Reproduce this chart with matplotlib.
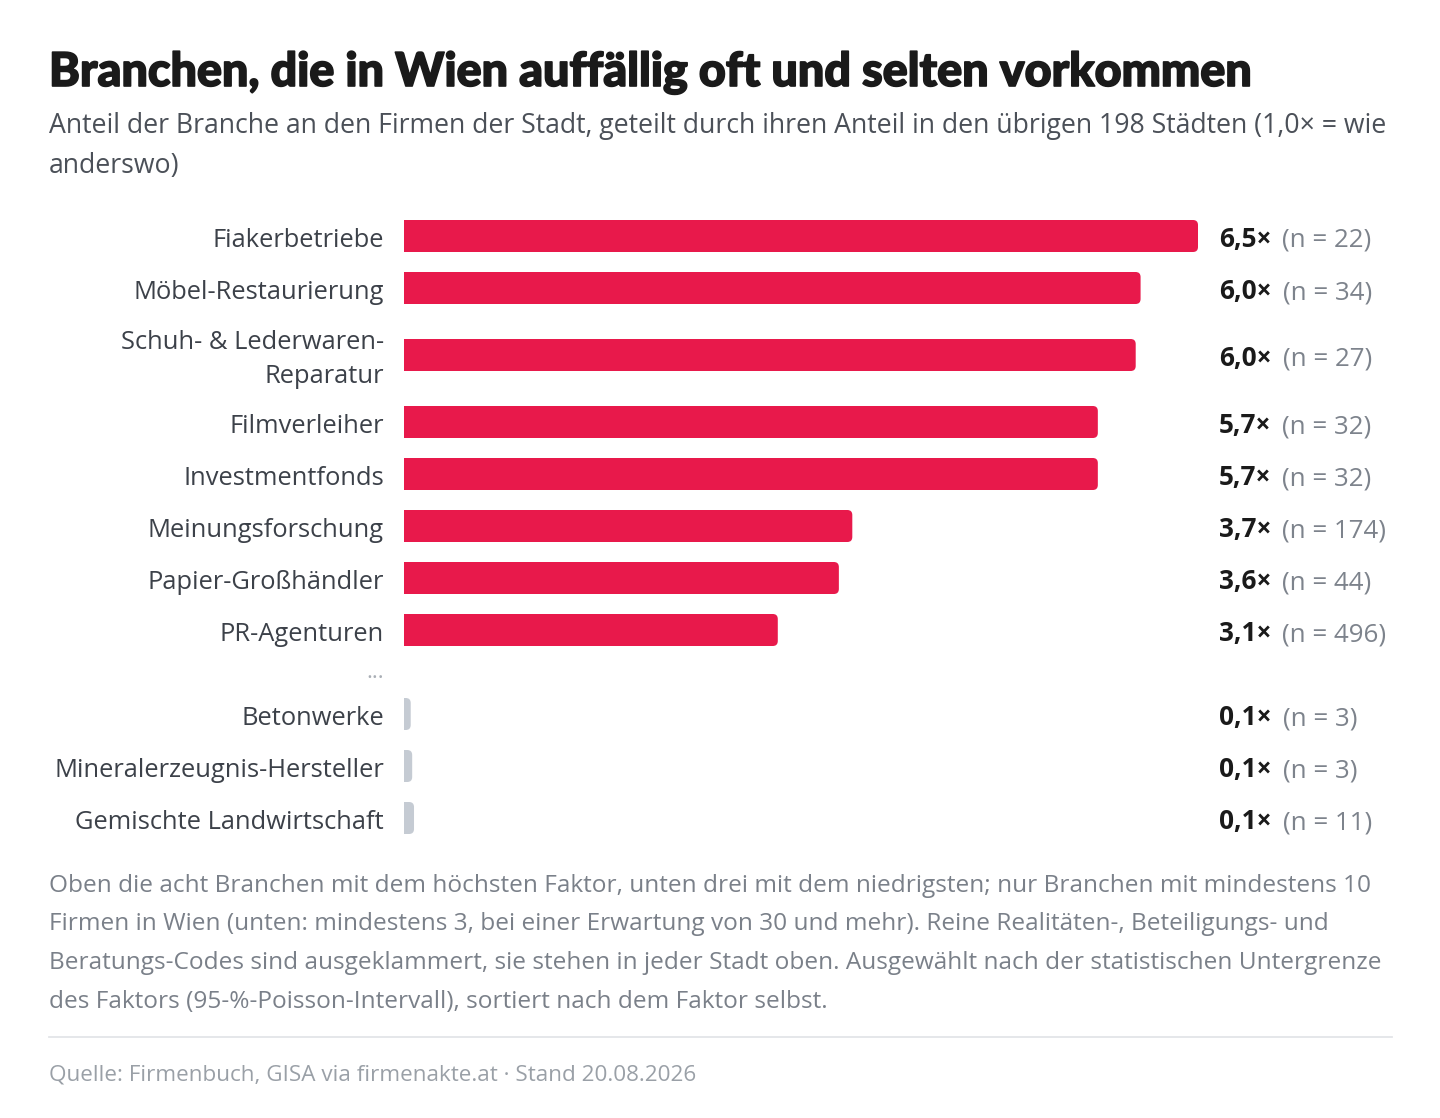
import matplotlib
matplotlib.use('Agg')
import matplotlib.pyplot as plt
from matplotlib.patches import FancyBboxPatch
import matplotlib.patheffects as pe

# ---------------- data ----------------
categories_top = ["Fiakerbetriebe", "Möbel-Restaurierung", "Schuh- & Lederwaren-\nReparatur",
                  "Filmverleiher", "Investmentfonds", "Meinungsforschung",
                  "Papier-Großhändler", "PR-Agenturen"]
factor_top = [6.50, 6.03, 5.99, 5.68, 5.68, 3.67, 3.56, 3.06]
n_top = [22, 34, 27, 32, 32, 174, 44, 496]

categories_bottom = ["Betonwerke", "Mineralerzeugnis-Hersteller", "Gemischte Landwirtschaft"]
factor_bottom = [0.055, 0.067, 0.082]
n_bottom = [3, 3, 11]

title = "Branchen, die in Wien auffällig oft und selten vorkommen"
subtitle_lines = ["Anteil der Branche an den Firmen der Stadt, geteilt durch ihren Anteil in den übrigen 198 Städten (1,0× = wie",
                  "anderswo)"]
note_lines = ["Oben die acht Branchen mit dem höchsten Faktor, unten drei mit dem niedrigsten; nur Branchen mit mindestens 10",
              "Firmen in Wien (unten: mindestens 3, bei einer Erwartung von 30 und mehr). Reine Realitäten-, Beteiligungs- und",
              "Beratungs-Codes sind ausgeklammert, sie stehen in jeder Stadt oben. Ausgewählt nach der statistischen Untergrenze",
              "des Faktors (95-%-Poisson-Intervall), sortiert nach dem Faktor selbst."]
source = "Quelle: Firmenbuch, GISA via firmenakte.at · Stand 20.08.2026"

# ---------------- style ----------------
W, H, DPI = 1440, 1118, 100
RED = "#E8194B"
GREY_BAR = "#C5CBD3"
BODY = "Open Sans"
TITLE_FONT = "Lato"

fig = plt.figure(figsize=(W / DPI, H / DPI), dpi=DPI)
fig.patch.set_facecolor("white")

def fx(x):
    return x / W

def fy(y):
    return 1 - y / H

# title / subtitle
fig.text(fx(49), fy(86), title, fontsize=33.6, fontweight="black", family=TITLE_FONT,
         color="#1a1a1a", va="baseline", ha="left",
         path_effects=[pe.withStroke(linewidth=1.2, foreground="#1a1a1a")])
for i, line in enumerate(subtitle_lines):
    fig.text(fx(49), fy(133 + 40 * i), line, fontsize=19.2, family=BODY,
             color="#4b5058", va="baseline", ha="left")

# ---------------- bars ----------------
X0, X1 = 404, 1198
ax = fig.add_axes([fx(X0), 0, (X1 - X0) / W, 1])
ax.set_xlim(0, max(factor_top))
ax.set_ylim(H, 0)
ax.axis("off")
ppu = (X1 - X0) / max(factor_top)   # pixels per unit of factor

BAR_H = 32
RADIUS = 5
ROW = 52
ROW2 = 82
GAP = 32
LINE = 34

rows = []  # (label, value, n, colour, y_center)
y = 210
for lab, v, n in zip(categories_top, factor_top, n_top):
    h = ROW2 if "\n" in lab else ROW
    rows.append((lab, v, n, RED, y + h / 2))
    y += h
ell_y = y + GAP / 2
y += GAP
for lab, v, n in zip(categories_bottom, factor_bottom, n_bottom):
    rows.append((lab, v, n, GREY_BAR, y + ROW / 2))
    y += ROW

rx = RADIUS / ppu
for lab, v, n, col, yc in rows:
    p = FancyBboxPatch((-rx, yc - BAR_H / 2), v + rx, BAR_H,
                       boxstyle=f"round,pad=0,rounding_size={rx}",
                       mutation_aspect=ppu, facecolor=col, edgecolor="none",
                       clip_on=True)
    ax.add_patch(p)
    # category label (one text per line, centred on the bar)
    parts = lab.split("\n")
    k = len(parts)
    for i, part in enumerate(parts):
        fig.text(fx(384), fy(yc + 11 + (i - (k - 1) / 2) * LINE), part, fontsize=18.35,
                 family=BODY, color="#3c4149", ha="right", va="baseline")
    # value label
    t = fig.text(fx(1219), fy(yc + 11), f"{v:.1f}".replace(".", ",") + "×",
                 fontsize=18.8, family=BODY, fontweight="bold", color="#1a1a1a",
                 ha="left", va="baseline")
    ax.annotate(f"(n = {n})", xy=(1, 0), xycoords=t, xytext=(8, 0),
                textcoords="offset points", fontsize=18.6, family=BODY,
                color="#7d838c", ha="left", va="bottom", annotation_clip=False)

fig.text(fx(384), fy(ell_y), "...", fontsize=16, family=BODY, color="#a9aeb5",
         ha="right", va="center")

# ---------------- notes ----------------
for i, line in enumerate(note_lines):
    fig.text(fx(49), fy(892 + 38.5 * i), line, fontsize=17.6, family=BODY,
             color="#7a8089", va="baseline", ha="left")

fig.add_artist(plt.Line2D([fx(49), fx(1392)], [fy(1037), fy(1037)],
                          transform=fig.transFigure, color="#e3e5e8", lw=1.3))
fig.text(fx(49), fy(1080), source, fontsize=16.2, family=BODY, color="#9aa0a7",
         va="baseline", ha="left")

fig.savefig("out.png", dpi=DPI, facecolor="white")
